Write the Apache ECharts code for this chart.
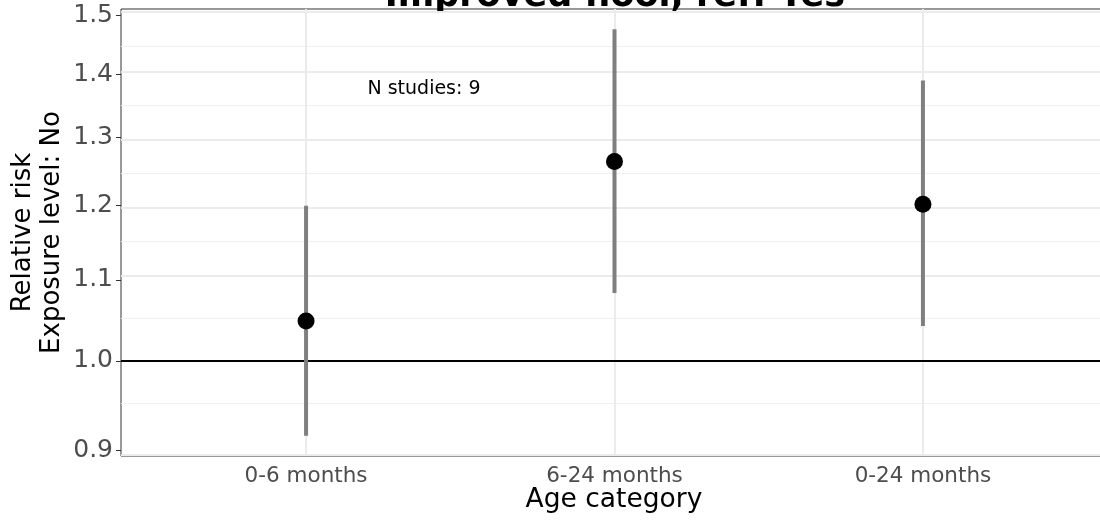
<!DOCTYPE html>
<html>
<head>
<meta charset="utf-8">
<script src="https://cdn.jsdelivr.net/npm/echarts@6/dist/echarts.min.js"></script>
<style>
  html, body { margin: 0; background: #fff; }
  #grafico { width: 1100px; height: 521px; }
</style>
</head>
<body>
<div id="grafico"></div>
<script>
// datos
const categorias = ['0-6 months', '6-24 months', '0-24 months']
const riesgoRelativo = [1.048, 1.264, 1.202]
const limiteInferior = [0.916, 1.083, 1.042]
const limiteSuperior = [1.200, 1.476, 1.390]
const marcasY = [0.9, 1.0, 1.1, 1.2, 1.3, 1.4, 1.5]
const nEstudios = 9

const titulo = 'Improved floor, ref: Yes'
const fuente = 'DejaVu Sans'

// eje Y en escala log: se trabaja con ln(valor)
const ln = Math.log
const posiciones = categorias.map((c, i) => i + 1)

const minLog = ln(Math.min(...limiteInferior))
const maxLog = ln(Math.max(...limiteSuperior))
const margenY = (maxLog - minLog) * 0.05

const marcasLog = marcasY.map(v => ln(v))
const marcasMenores = marcasLog.slice(1).map((v, i) => (v + marcasLog[i]) / 2)

const miGrafico = echarts.init(document.getElementById('grafico'))

const opciones = {
  animation: false,
  backgroundColor: '#fff',
  grid: {
    left: 121,
    top: 9,
    right: -8,
    bottom: 65,
    show: true,
    borderColor: '#333333',
    borderWidth: 1,
    backgroundColor: '#fff',
    containLabel: false,
    outerBoundsMode: 'none'
  },
  xAxis: {
    type: 'value',
    min: 0.4,
    max: 3.6,
    axisLine: { show: false },
    splitLine: { show: false },
    axisTick: {
      show: true,
      length: 5,
      customValues: posiciones,
      lineStyle: { color: '#333333', width: 1 }
    },
    axisLabel: {
      customValues: posiciones,
      formatter: v => categorias[Math.round(v) - 1] || '',
      color: '#4d4d4d',
      fontFamily: fuente,
      fontSize: 21.5,
      margin: 9
    }
  },
  yAxis: {
    type: 'value',
    min: minLog - margenY,
    max: maxLog + margenY,
    axisLine: { show: false },
    splitLine: { show: false },
    axisTick: {
      show: true,
      length: 5,
      customValues: marcasLog,
      lineStyle: { color: '#333333', width: 1 }
    },
    axisLabel: {
      customValues: marcasLog,
      formatter: v => Math.exp(v).toFixed(1),
      color: '#4d4d4d',
      fontFamily: fuente,
      fontSize: 25,
      margin: 8
    }
  },
  graphic: [
    {
      type: 'text',
      x: 615,
      y: -3.5,
      style: {
        text: titulo,
        font: 'bold 35px "DejaVu Sans"',
        fill: '#000',
        textAlign: 'center',
        textVerticalAlign: 'middle'
      }
    },
    {
      type: 'text',
      x: 37.5,
      y: 232.5,
      rotation: Math.PI / 2,
      style: {
        text: 'Relative risk\nExposure level: No',
        font: '26px "DejaVu Sans"',
        lineHeight: 29,
        fill: '#000',
        textAlign: 'center',
        textVerticalAlign: 'middle'
      }
    },
    {
      type: 'text',
      x: 614,
      y: 500,
      style: {
        text: 'Age category',
        font: '26.5px "DejaVu Sans"',
        fill: '#000',
        textAlign: 'center',
        textVerticalAlign: 'middle'
      }
    },
    {
      type: 'text',
      x: 424,
      y: 89,
      style: {
        text: 'N studies: ' + nEstudios,
        font: '19px "DejaVu Sans"',
        fill: '#000',
        textAlign: 'center',
        textVerticalAlign: 'middle'
      }
    }
  ],
  series: [
    {
      // lineas de la rejilla
      type: 'line',
      data: [],
      z: 1,
      silent: true,
      markLine: {
        z: 1,
        silent: true,
        symbol: 'none',
        label: { show: false },
        emphasis: { disabled: true },
        data: [
          ...marcasMenores.map(v => ({ yAxis: v, lineStyle: { color: '#f0f0f0', width: 1, type: 'solid' } })),
          ...marcasLog.map(v => ({ yAxis: v, lineStyle: { color: '#ebebeb', width: 2, type: 'solid' } })),
          ...posiciones.map(v => ({ xAxis: v, lineStyle: { color: '#ebebeb', width: 2, type: 'solid' } }))
        ]
      }
    },
    {
      // referencia en 1.0
      type: 'line',
      data: [],
      z: 2,
      silent: true,
      markLine: {
        z: 2,
        silent: true,
        symbol: 'none',
        label: { show: false },
        emphasis: { disabled: true },
        data: [{ yAxis: ln(1), lineStyle: { color: '#000', width: 1.8, type: 'solid' } }]
      }
    },
    {
      type: 'custom',
      z: 3,
      silent: true,
      data: posiciones.map((x, i) => [x, ln(limiteInferior[i]), ln(limiteSuperior[i])]),
      renderItem: (params, api) => {
        const abajo = api.coord([api.value(0), api.value(1)])
        const arriba = api.coord([api.value(0), api.value(2)])
        return {
          type: 'line',
          shape: { x1: abajo[0], y1: abajo[1], x2: arriba[0], y2: arriba[1] },
          style: { stroke: '#7f7f7f', lineWidth: 4 }
        }
      }
    },
    {
      type: 'scatter',
      z: 4,
      silent: true,
      symbol: 'circle',
      symbolSize: 17,
      itemStyle: { color: '#000', opacity: 1 },
      data: posiciones.map((x, i) => [x, ln(riesgoRelativo[i])])
    }
  ]
}

miGrafico.setOption(opciones)
</script>
</body>
</html>
